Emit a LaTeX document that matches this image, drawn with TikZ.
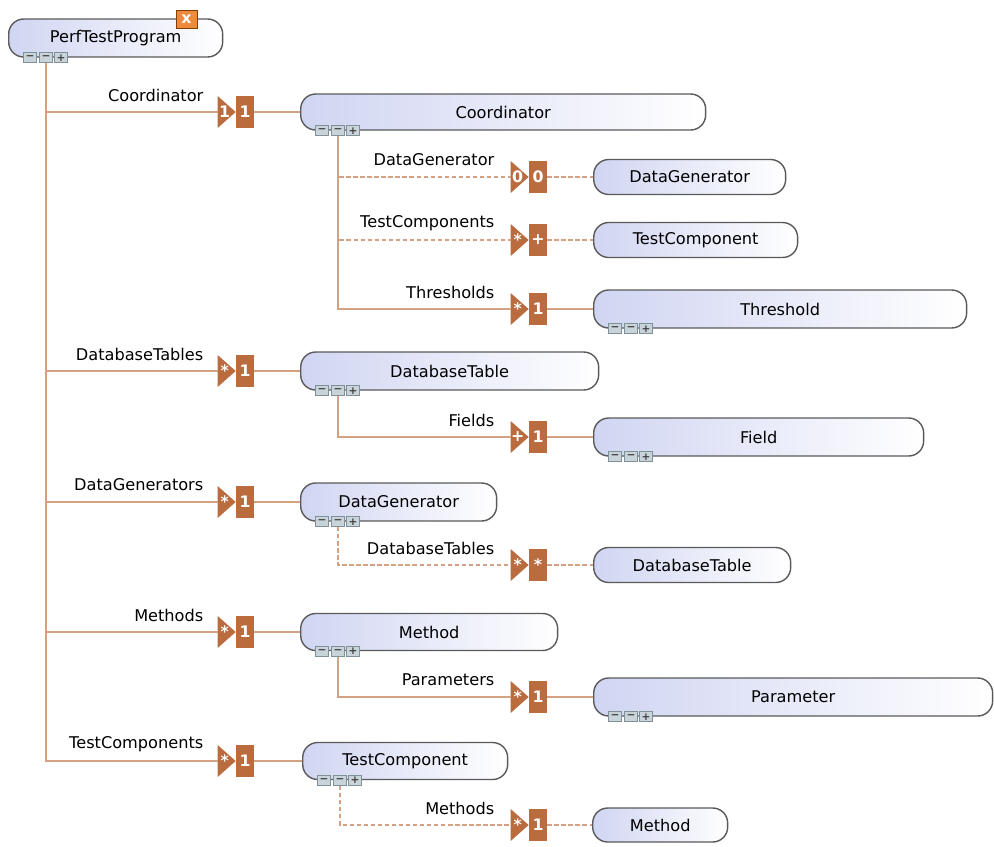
\documentclass[tikz,border=0pt]{standalone}
\usepackage{fontspec}
\setmainfont{DejaVu Sans}
\usetikzlibrary{positioning,calc}
\definecolor{linkc}{HTML}{D4A282}
\definecolor{cardc}{HTML}{BA6C3E}
\definecolor{boxl}{HTML}{D0D5F2}
\definecolor{boxd}{HTML}{5A5A5A}
\definecolor{btnc}{HTML}{C9D3DA}
\definecolor{btnd}{HTML}{7F9098}
\definecolor{closec}{HTML}{EE8A3C}
\tikzset{
  classbox/.style={draw=boxd, line width=0.8pt, rounded corners=0.3cm,
    left color=boxl, right color=white, minimum height=0.72cm,
    inner sep=0pt, anchor=west, font=\fontsize{9.2}{11}\selectfont},
  rolelbl/.style={anchor=east, inner sep=0pt, font=\fontsize{9.2}{11}\selectfont},
  link/.style={draw=linkc, line width=1.1pt},
  optlink/.style={draw=linkc, line width=0.8pt, dash pattern=on 2.5pt off 1.5pt},
  cardbox/.style={fill=cardc, text=white, minimum width=0.36cm, minimum height=0.64cm,
    inner sep=0pt, font=\bfseries\fontsize{9}{10}\selectfont},
  btn/.style={draw=btnd, fill=btnc, minimum width=0.26cm, minimum height=0.2cm,
    inner sep=0pt, line width=0.4pt, text=black!75, font=\bfseries\fontsize{6}{6}\selectfont},
  closebox/.style={draw=orange!50!black, fill=closec, text=white, minimum width=0.42cm,
    minimum height=0.36cm, inner sep=0pt, font=\bfseries\fontsize{9}{9}\selectfont}
}
% multiplicity marker: name, position, left sign, right sign
\newcommand{\card}[4]{%
  \node[cardbox] (#1) at (#2) {#4};
  \fill[cardc] (#1.west) -- ++(-18,-16) -- ++(0,32) -- cycle;
  \node[cardbox, fill=none, minimum width=0pt] (#1-l) at ([xshift=-0.22cm]#1.west) {#3};
  \coordinate (#1-in) at ([xshift=-0.36cm]#1.west);
}
% expand / collapse buttons under a box
\newcommand{\btns}[1]{%
  \node[btn] (#1-b1) at ([xshift=0.44cm]#1.south west) {−};
  \node[btn] (#1-b2) at ([xshift=0.76cm]#1.south west) {−};
  \node[btn] (#1-b3) at ([xshift=1.06cm]#1.south west) {+};
}

\begin{document}
\begin{tikzpicture}[x=0.02cm,y=-0.02cm]
  \useasboundingbox (0,0) rectangle (994,846);

  % classes
  \node[classbox, minimum width=4.28cm, minimum height=0.76cm] (prog) at (8,38) {PerfTestProgram};
  \node[classbox, minimum width=8.10cm] (coord) at (300,112) {Coordinator};
  \node[classbox, minimum width=3.84cm, minimum height=0.70cm] (datagen1) at (593,177) {DataGenerator};
  \node[classbox, minimum width=4.08cm, minimum height=0.70cm] (testcomp1) at (593,240) {TestComponent};
  \node[classbox, minimum width=7.46cm, minimum height=0.76cm] (thresh) at (593,309) {Threshold};
  \node[classbox, minimum width=5.96cm, minimum height=0.76cm] (dbtable) at (300,371) {DatabaseTable};
  \node[classbox, minimum width=6.60cm, minimum height=0.76cm] (field) at (593,437) {Field};
  \node[classbox, minimum width=3.92cm, minimum height=0.76cm] (datagen) at (300,502) {DataGenerator};
  \node[classbox, minimum width=3.94cm, minimum height=0.70cm] (dbtable2) at (593,565) {DatabaseTable};
  \node[classbox, minimum width=5.14cm, minimum height=0.74cm] (method) at (300,632) {Method};
  \node[classbox, minimum width=7.98cm, minimum height=0.76cm] (param) at (593,697) {Parameter};
  \node[classbox, minimum width=4.10cm, minimum height=0.74cm] (testcomp) at (302,761) {TestComponent};
  \node[classbox, minimum width=2.70cm, minimum height=0.68cm] (method2) at (592,825) {Method};

  \node[closebox] (prog-x) at (186.5,19) {x};
  \foreach \n in {prog,coord,thresh,dbtable,field,datagen,method,param,testcomp} {
    \btns{\n}
  }

  % multiplicities
  \card{gCoord}{245,112}{1}{1}
  \card{gDg1}{538,177}{0}{0}
  \card{gTc1}{538,240}{*}{+}
  \card{gThr}{538,309}{*}{1}
  \card{gDbt}{245,371}{*}{1}
  \card{gFld}{538,437}{+}{1}
  \card{gDg}{245,502}{*}{1}
  \card{gDbt2}{538,565}{*}{*}
  \card{gMet}{245,632}{*}{1}
  \card{gPar}{538,697}{*}{1}
  \card{gTc}{245,761}{*}{1}
  \card{gMet2}{538,825}{*}{1}

  % connectors
  \foreach \g/\t in {gCoord/coord,gDbt/dbtable,gDg/datagen,gMet/method,gTc/testcomp} {
    \draw[link] (prog-b2.south) |- (\g-in);
    \draw[link] (\g) -- (\t);
  }
  \draw[link] (coord-b2.south) |- (gThr-in);
  \draw[link] (gThr) -- (thresh);
  \draw[optlink] (coord-b2.south) |- (gDg1-in);
  \draw[optlink] (gDg1) -- (datagen1);
  \draw[optlink] (coord-b2.south) |- (gTc1-in);
  \draw[optlink] (gTc1) -- (testcomp1);
  \draw[link] (dbtable-b2.south) |- (gFld-in);
  \draw[link] (gFld) -- (field);
  \draw[optlink] (datagen-b2.south) |- (gDbt2-in);
  \draw[optlink] (gDbt2) -- (dbtable2);
  \draw[link] (method-b2.south) |- (gPar-in);
  \draw[link] (gPar) -- (param);
  \draw[optlink] (testcomp-b2.south) |- (gMet2-in);
  \draw[optlink] (gMet2) -- (method2);

  % role names
  \node[rolelbl] (lCoord) at ([xshift=-0.28cm, yshift=0.34cm]gCoord-in) {Coordinator};
  \node[rolelbl] (lDbt) at ([xshift=-0.28cm, yshift=0.34cm]gDbt-in) {DatabaseTables};
  \node[rolelbl] (lDg) at ([xshift=-0.28cm, yshift=0.34cm]gDg-in) {DataGenerators};
  \node[rolelbl] (lMet) at ([xshift=-0.28cm, yshift=0.34cm]gMet-in) {Methods};
  \node[rolelbl] (lTc) at ([xshift=-0.28cm, yshift=0.34cm]gTc-in) {TestComponents};
  \node[rolelbl] (lDg1) at ([xshift=-0.32cm, yshift=0.34cm]gDg1-in) {DataGenerator};
  \node[rolelbl] (lTc1) at ([xshift=-0.32cm, yshift=0.34cm]gTc1-in) {TestComponents};
  \node[rolelbl] (lThr) at ([xshift=-0.32cm, yshift=0.34cm]gThr-in) {Thresholds};
  \node[rolelbl] (lFld) at ([xshift=-0.32cm, yshift=0.34cm]gFld-in) {Fields};
  \node[rolelbl] (lDbt2) at ([xshift=-0.32cm, yshift=0.34cm]gDbt2-in) {DatabaseTables};
  \node[rolelbl] (lPar) at ([xshift=-0.32cm, yshift=0.34cm]gPar-in) {Parameters};
  \node[rolelbl] (lMet2) at ([xshift=-0.32cm, yshift=0.34cm]gMet2-in) {Methods};
\end{tikzpicture}
\end{document}
